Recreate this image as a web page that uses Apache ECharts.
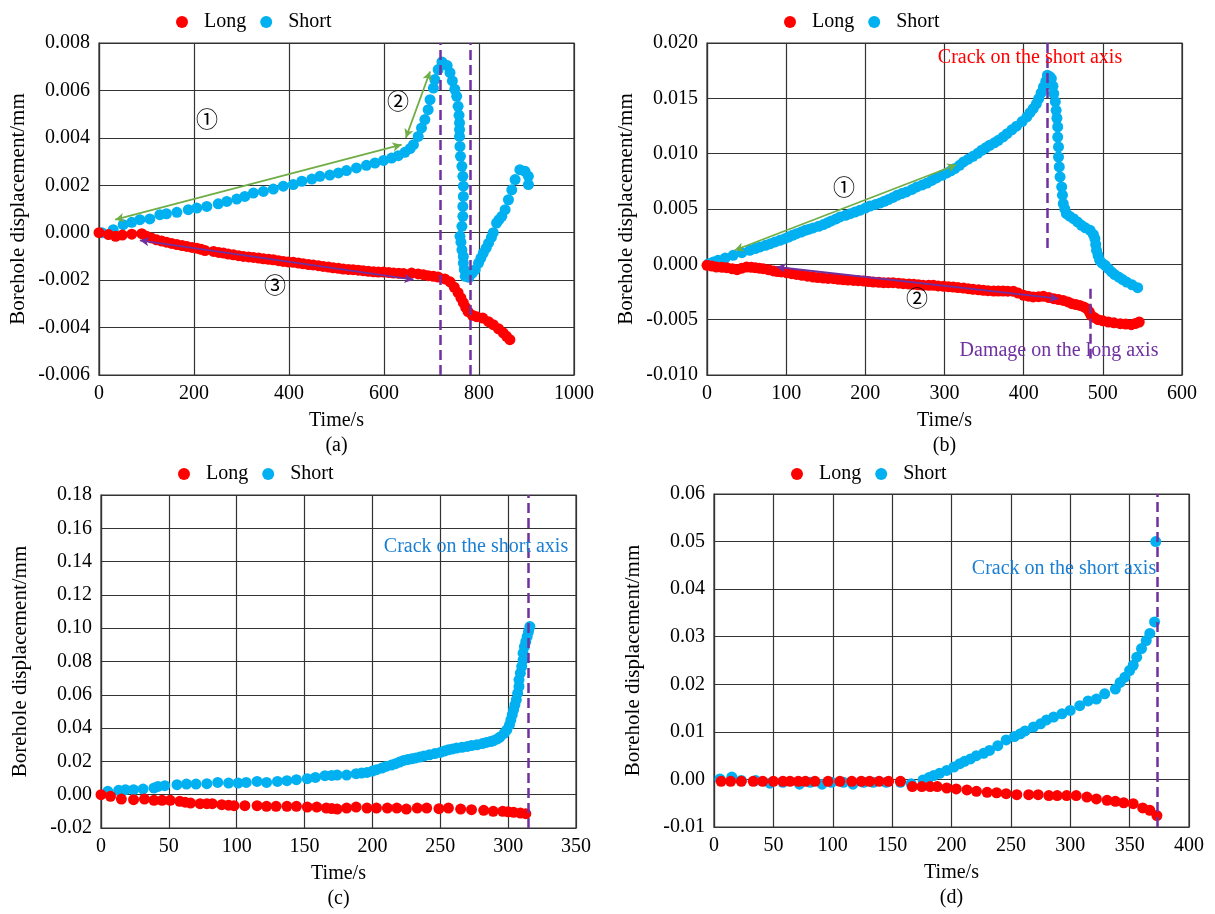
<!DOCTYPE html>
<html><head><meta charset="utf-8">
<script src="https://cdn.jsdelivr.net/npm/echarts@6/dist/echarts.min.js"></script>
<style>html,body{margin:0;padding:0;background:#fff}#c{width:1215px;height:914px}</style>
</head><body><div id="c"></div>
<script>
// ---------- DATA ----------
const seriesNames = ['Long', 'Short'];
const panelLabels = ['(a)', '(b)', '(c)', '(d)'];
const xName = 'Time/s';
const yName = 'Borehole displacement/mm';

// axis ranges [min, max, interval]
const xRanges = [[0, 1000, 200], [0, 600, 100], [0, 350, 50], [0, 400, 50]];
const yRanges = [[-0.006, 0.008, 0.002], [-0.010, 0.020, 0.005], [-0.02, 0.18, 0.02], [-0.01, 0.06, 0.01]];
const yDecimals = [3, 3, 2, 2];

// (a)
const aShort = [[6,0.0000],[30,0.00013],[51,0.00034],[69,0.00044],[86,0.00055],[107,0.00058],[128,0.00076],[142,0.0008],[164,0.00086],[188,0.00097],[206,0.00104],[227,0.00111],[251,0.00122],[269,0.00132],[290,0.00142],[307,0.00153],[325,0.00167],[346,0.00174],[367,0.00184],[388,0.00196],[409,0.00203],[427,0.00217],[448,0.00226],[465,0.00238],[486,0.00243],[504,0.00252],[521,0.00262],[542,0.00273],[563,0.00284],[581,0.00294],[599,0.00305],[616,0.00315],[630,0.00325],[644,0.00339],[655,0.00355],[662,0.00371],[672,0.00406],[679,0.00442],[686,0.00477],[693,0.00519],[697,0.00561],[704,0.0061],[707,0.00646],[714,0.00688],[722,0.0072],[733,0.00705],[739,0.00675],[744,0.0064],[749,0.00605],[753,0.00575],[756,0.00533],[758,0.00495],[759,0.00463],[759,0.00435],[759,0.00406],[760,0.00364],[761,0.00322],[764,0.0028],[766,0.00238],[767,0.00196],[767,0.00153],[766,0.00111],[766,0.00069],[764,0.00027],[760,-0.00015],[762,-0.0004],[764,-0.00072],[767,-0.001],[767,-0.00128],[769,-0.00155],[771,-0.00184],[779,-0.00188],[786,-0.0017],[792,-0.00156],[799,-0.00128],[804,-0.00107],[809,-0.00086],[815,-0.00065],[820,-0.00044],[826,-0.0002],[830,0.0000],[837,0.00041],[842,0.00055],[848,0.00069],[855,0.00097],[862,0.00139],[869,0.00181],[876,0.00224],[886,0.00266],[897,0.00259],[904,0.00238],[904,0.00203]];
const aLong = [[0,0],[20,-0.00008],[35,-0.00015],[49,-0.0001],[69,-0.00006],[90,-0.00004],[100,-0.00015],[110,-0.00022],[121,-0.0003],[132,-0.00035],[142,-0.0004],[153,-0.00045],[164,-0.0005],[175,-0.00054],[185,-0.00058],[196,-0.00062],[206,-0.00065],[215,-0.0007],[223,-0.00075],[241,-0.00079],[252,-0.00083],[262,-0.00086],[272,-0.0009],[283,-0.00093],[294,-0.00097],[304,-0.001],[315,-0.00102],[325,-0.00104],[336,-0.00107],[346,-0.0011],[357,-0.00112],[367,-0.00114],[378,-0.00118],[388,-0.00121],[398,-0.00123],[409,-0.00125],[420,-0.00128],[430,-0.00131],[441,-0.00134],[451,-0.00136],[462,-0.00139],[472,-0.00142],[483,-0.00145],[493,-0.00148],[504,-0.0015],[514,-0.00153],[525,-0.00155],[535,-0.00156],[546,-0.00158],[556,-0.0016],[567,-0.00163],[578,-0.00165],[588,-0.00166],[599,-0.00166],[610,-0.00168],[620,-0.0017],[631,-0.00171],[641,-0.00172],[658,-0.0017],[672,-0.00174],[683,-0.00177],[693,-0.00181],[704,-0.00184],[714,-0.00187],[728,-0.00195],[739,-0.00207],[748,-0.0023],[756,-0.00253],[762,-0.00275],[767,-0.00295],[772,-0.00315],[777,-0.00333],[786,-0.00348],[795,-0.00354],[808,-0.0036],[820,-0.00375],[830,-0.00388],[841,-0.00405],[851,-0.00422],[858,-0.00437],[865,-0.00451]];

// (b)
const bShort = [[2,0.00006],[8,0.0002],[14,0.00036],[23,0.00057],[33,0.00081],[44,0.00105],[54,0.00127],[61,0.00142],[67,0.00157],[74,0.00172],[80,0.00187],[86,0.00202],[92,0.00217],[98,0.00232],[103,0.00247],[108,0.00262],[113,0.00277],[119,0.00292],[124,0.00307],[129,0.00318],[134,0.00329],[141,0.00344],[147,0.00359],[152,0.00375],[157,0.00392],[163,0.0041],[168,0.00428],[175,0.00443],[181,0.00458],[187,0.00473],[193,0.00488],[200,0.00508],[206,0.00527],[213,0.00541],[219,0.00555],[224,0.0057],[229,0.00585],[235,0.00605],[240,0.00624],[246,0.00639],[252,0.00654],[259,0.00677],[265,0.00699],[272,0.00717],[278,0.00735],[284,0.00758],[290,0.00781],[297,0.00804],[303,0.00826],[308,0.00845],[313,0.00865],[319,0.00895],[324,0.00925],[330,0.0095],[336,0.00976],[342,0.01003],[347,0.01031],[352,0.01053],[357,0.01076],[363,0.01098],[368,0.01121],[374,0.01151],[379,0.01181],[385,0.01215],[391,0.01248],[398,0.0129],[404,0.01332],[408,0.0137],[412,0.01407],[416,0.0145],[419,0.01498],[422,0.0155],[425,0.01603],[428,0.01655],[430,0.01709],[433,0.01695],[435,0.01679],[437,0.0161],[438,0.01543],[440,0.0147],[441,0.01392],[442,0.0132],[443,0.01242],[443,0.0115],[444,0.01061],[444,0.0097],[445,0.0088],[446,0.0079],[448,0.00699],[449,0.00625],[450,0.00549],[452,0.005],[454,0.00458],[458,0.00435],[463,0.00413],[468,0.00383],[473,0.00353],[478,0.0033],[484,0.00307],[488,0.0027],[490,0.00232],[491,0.0018],[492,0.00127],[494,0.0008],[496,0.00036],[499,0.0001],[503,-0.00009],[507,-0.00039],[511,-0.00069],[515,-0.00092],[520,-0.00115],[525,-0.00138],[530,-0.0016],[537,-0.00185],[544,-0.00211]];
const bLong = [[0,-0.00009],[6,-0.00015],[12,-0.00024],[19,-0.00027],[25,-0.0003],[32,-0.0004],[38,-0.00048],[44,-0.00035],[50,-0.00024],[56,-0.00027],[61,-0.0003],[66,-0.00035],[71,-0.00039],[78,-0.0005],[84,-0.0006],[89,-0.00065],[94,-0.00069],[101,-0.00077],[107,-0.00084],[113,-0.00091],[120,-0.00099],[127,-0.00107],[134,-0.00115],[140,-0.0012],[147,-0.00124],[153,-0.00127],[160,-0.0013],[166,-0.00135],[172,-0.00139],[178,-0.00142],[185,-0.00145],[191,-0.00148],[198,-0.00151],[204,-0.00156],[210,-0.0016],[217,-0.00163],[223,-0.00166],[229,-0.00166],[235,-0.00166],[242,-0.0017],[248,-0.00175],[255,-0.00178],[261,-0.00181],[267,-0.00185],[273,-0.0019],[280,-0.0019],[286,-0.0019],[292,-0.00195],[299,-0.00199],[305,-0.00202],[311,-0.00205],[317,-0.0021],[324,-0.00214],[330,-0.0022],[336,-0.00226],[343,-0.0023],[349,-0.00235],[355,-0.00238],[362,-0.00241],[368,-0.00241],[374,-0.00241],[380,-0.00243],[387,-0.00244],[393,-0.0026],[400,-0.0028],[406,-0.00288],[412,-0.00295],[419,-0.00292],[425,-0.00289],[432,-0.003],[438,-0.0031],[444,-0.00318],[450,-0.00326],[456,-0.0034],[461,-0.00356],[466,-0.00364],[471,-0.00371],[476,-0.00385],[480,-0.00401],[483,-0.0043],[485,-0.00461],[489,-0.0048],[494,-0.005],[500,-0.0051],[507,-0.00521],[514,-0.00528],[522,-0.00536],[529,-0.0054],[536,-0.00545],[541,-0.00535],[546,-0.00521]];

// (c)
const cShort = [[5,0.002],[13,0.0026],[18,0.003],[24,0.003],[31,0.0034],[39,0.004],[42,0.005],[47,0.0054],[56,0.006],[63,0.0064],[70,0.0064],[78,0.0066],[86,0.0074],[94,0.007],[101,0.007],[107,0.0074],[115,0.008],[122,0.0074],[130,0.008],[137,0.0084],[144,0.009],[152,0.0096],[158,0.0104],[165,0.0114],[170,0.0116],[174,0.0118],[181,0.0118],[188,0.0126],[192,0.013],[196,0.0134],[200,0.0142],[203,0.015],[207,0.016],[210,0.017],[214,0.0178],[217,0.0186],[220,0.0196],[223,0.0206],[226,0.0211],[229,0.0216],[232,0.0221],[235,0.0226],[238,0.0233],[242,0.024],[246,0.0247],[250,0.0254],[253,0.0262],[256,0.027],[259,0.0275],[262,0.028],[266,0.0285],[270,0.029],[273,0.0295],[277,0.030],[281,0.0307],[284,0.0314],[287,0.0319],[289,0.0324],[292,0.0335],[294,0.0346],[297,0.0368],[299,0.039],[301,0.042],[302,0.045],[303,0.048],[304,0.051],[305,0.054],[306,0.057],[307,0.061],[308,0.065],[308,0.069],[309,0.073],[310,0.077],[311,0.081],[311,0.085],[312,0.089],[313,0.092],[314,0.095],[315,0.098],[316,0.101]];
const cLong = [[0,0],[7,-0.001],[15,-0.0026],[24,-0.003],[32,-0.0026],[39,-0.0034],[45,-0.0034],[51,-0.0034],[58,-0.004],[62,-0.0045],[66,-0.005],[73,-0.0054],[78,-0.0054],[82,-0.0054],[89,-0.006],[94,-0.0063],[98,-0.0066],[106,-0.0066],[115,-0.0066],[122,-0.007],[129,-0.007],[137,-0.007],[144,-0.007],[152,-0.0074],[159,-0.0074],[166,-0.008],[170,-0.0083],[174,-0.0086],[181,-0.008],[188,-0.0074],[196,-0.008],[203,-0.008],[211,-0.008],[218,-0.008],[225,-0.0086],[233,-0.008],[240,-0.008],[249,-0.0084],[256,-0.008],[265,-0.0086],[273,-0.009],[282,-0.0094],[289,-0.01],[296,-0.01],[300,-0.0103],[304,-0.0106],[309,-0.011],[313,-0.0114]];

// (d)
const dShort = [[5,0.0001],[15,0.0005],[23,-0.0002],[35,-0.0002],[47,-0.0008],[58,-0.0006],[72,-0.001],[81,-0.0006],[91,-0.001],[99,-0.0006],[109,-0.0006],[117,-0.001],[126,-0.0006],[134,-0.0006],[145,-0.0006],[157,-0.0006],[166,-0.0009],[176,-0.0001],[181,0.0004],[185,0.0008],[190,0.0013],[196,0.0019],[202,0.0026],[207,0.0033],[211,0.0038],[216,0.0043],[221,0.005],[227,0.0055],[232,0.0061],[239,0.0071],[246,0.0083],[253,0.009],[258,0.0096],[262,0.0102],[269,0.011],[275,0.0117],[280,0.0125],[286,0.0131],[293,0.0138],[300,0.0145],[308,0.0155],[315,0.0165],[322,0.0169],[329,0.018],[338,0.019],[342,0.0204],[346,0.0215],[350,0.0229],[353,0.024],[356,0.0257],[360,0.0275],[364,0.0292],[367,0.0307],[371,0.0331],[372,0.05]];
const dLong = [[6,-0.0004],[14,-0.0004],[23,-0.0004],[33,-0.0004],[41,-0.0004],[50,-0.0004],[58,-0.0004],[64,-0.0004],[71,-0.0004],[77,-0.0004],[85,-0.0004],[96,-0.0004],[106,-0.0004],[116,-0.0004],[124,-0.0004],[131,-0.0004],[139,-0.0004],[147,-0.0004],[157,-0.0004],[167,-0.0015],[175,-0.0015],[182,-0.0015],[188,-0.0015],[196,-0.0018],[204,-0.002],[213,-0.0022],[221,-0.0025],[230,-0.0027],[238,-0.0028],[246,-0.003],[255,-0.0032],[265,-0.0032],[273,-0.0032],[282,-0.0034],[289,-0.0034],[297,-0.0034],[305,-0.0034],[314,-0.0037],[322,-0.0041],[331,-0.0044],[338,-0.0046],[345,-0.0049],[353,-0.0051],[361,-0.006],[367,-0.0065],[373,-0.0076]];

const shortData = [aShort, bShort, cShort, dShort];
const longData = [aLong, bLong, cLong, dLong];

// annotation lines (data coordinates)
const aDashX = [719, 781];
const bDash = [[[430, 0.020], [430, 0.0012]], [[484, -0.0022], [484, -0.0085]]];
const cDashX = [315];
const dDashX = [373];
const aGreenArrows = [[[34, 0.00055], [637, 0.00371]], [[646, 0.0040], [697, 0.0068]]];
const aPurpleArrows = [[[86, -0.00032], [662, -0.00198]]];
const bGreenArrows = [[[35, 0.00127], [315, 0.0090]]];
const bPurpleArrows = [[[88, -0.00024], [444, -0.0031]]];

// ---------- LAYOUT ----------
const grids = [
  {left: 99, top: 43, width: 475, height: 332},
  {left: 707, top: 43, width: 475, height: 332},
  {left: 101, top: 495, width: 475, height: 333},
  {left: 714, top: 494, width: 475, height: 333}
];
const FONT = "'Liberation Serif', 'Times New Roman', serif";
const RED = '#ff0000', BLUE = '#00b0f0', PURPLE = '#7030a0', GREEN = '#70ad47', TXTBLUE = '#1a7fd2';

const chart = echarts.init(document.getElementById('c'), null, {renderer: 'canvas'});

const xAxes = [], yAxes = [], series = [], legends = [], graphics = [];
grids.forEach((g, i) => {
  xAxes.push({
    type: 'value', gridIndex: i, min: xRanges[i][0], max: xRanges[i][1], interval: xRanges[i][2],
    name: xName, nameLocation: 'middle', nameGap: 36,
    nameTextStyle: {fontFamily: FONT, fontSize: 20, color: '#000'},
    axisLine: {show: true, onZero: false, lineStyle: {color: '#333', width: 1.2}},
    axisTick: {show: false},
    axisLabel: {fontFamily: FONT, fontSize: 20, color: '#000', margin: 9, formatter: v => String(Math.round(v))},
    splitLine: {show: true, lineStyle: {color: '#333', width: 1.2}}
  });
  yAxes.push({
    type: 'value', gridIndex: i, min: yRanges[i][0], max: yRanges[i][1], interval: yRanges[i][2],
    name: yName, nameLocation: 'middle', nameGap: 70, nameRotate: 90,
    nameTextStyle: {fontFamily: FONT, fontSize: 21, color: '#000'},
    axisLine: {show: true, onZero: false, lineStyle: {color: '#333', width: 1.2}},
    axisTick: {show: false},
    axisLabel: {fontFamily: FONT, fontSize: 20, color: '#000', margin: 9,
      formatter: v => (Math.abs(v) < 1e-12 ? 0 : v).toFixed(yDecimals[i])},
    splitLine: {show: true, lineStyle: {color: '#333', width: 1.2}}
  });
  legends.push({
    data: seriesNames, left: g.left + 72, top: i < 2 ? 7 : 459, orient: 'horizontal',
    icon: 'circle', itemWidth: 34, itemHeight: 12, itemGap: 14, selectedMode: false,
    textStyle: {fontFamily: FONT, fontSize: 20, color: '#000'}
  });
  graphics.push({type: 'text', x: g.left + g.width / 2, y: g.top + g.height + 71,
    style: {text: panelLabels[i], font: '20px ' + FONT, fill: '#000', align: 'center', verticalAlign: 'middle'}});
});

function dashV(x) { return {xAxis: x, lineStyle: {color: PURPLE, type: [10, 5], width: 2.5}}; }
function seg(p, color, arrow, dash) {
  return [{coord: p[0], symbol: arrow ? 'arrow' : 'none', symbolSize: arrow ? [7, 9] : 0,
           lineStyle: {color: color, width: dash ? 2.5 : 1.8, type: dash ? [10, 5] : 'solid'}},
          {coord: p[1], symbol: arrow ? 'arrow' : 'none', symbolSize: arrow ? [7, 9] : 0}];
}

const markLines = [
  [].concat(aDashX.map(dashV), aGreenArrows.map(p => seg(p, GREEN, true)), aPurpleArrows.map(p => seg(p, PURPLE, true))),
  [].concat(bDash.map(p => seg(p, PURPLE, false, true)), bGreenArrows.map(p => seg(p, GREEN, true)), bPurpleArrows.map(p => seg(p, PURPLE, true))),
  cDashX.map(dashV),
  dDashX.map(dashV)
];

grids.forEach((g, i) => {
  series.push({
    name: 'Short', type: 'scatter', xAxisIndex: i, yAxisIndex: i, data: shortData[i],
    symbol: 'circle', symbolSize: 11, itemStyle: {color: BLUE, opacity: 1}, z: 2,
    markLine: {silent: true, symbol: 'none', label: {show: false}, animation: false, z: 5,
      data: markLines[i]}
  });
  series.push({
    name: 'Long', type: 'scatter', xAxisIndex: i, yAxisIndex: i, data: longData[i],
    symbol: 'circle', symbolSize: 11, itemStyle: {color: RED, opacity: 1}, z: 3
  });
});

// text annotations
const circ = "'Noto Sans CJK SC', 'DejaVu Sans', sans-serif";
const annTexts = [
  {t: '①', x: 207, y: 119, c: '#000', f: '22px ' + circ},
  {t: '②', x: 398, y: 101, c: '#000', f: '22px ' + circ},
  {t: '③', x: 275, y: 285, c: '#000', f: '22px ' + circ},
  {t: '①', x: 844, y: 187, c: '#000', f: '22px ' + circ},
  {t: '②', x: 917, y: 298, c: '#000', f: '22px ' + circ},
  {t: 'Crack on the short axis', x: 1030, y: 58, c: RED, f: '20px ' + FONT},
  {t: 'Damage on the long axis', x: 1059, y: 351, c: PURPLE, f: '20px ' + FONT},
  {t: 'Crack on the short axis', x: 476, y: 547, c: TXTBLUE, f: '20px ' + FONT},
  {t: 'Crack on the short axis', x: 1064, y: 569, c: TXTBLUE, f: '20px ' + FONT}
];
annTexts.forEach(a => graphics.push({type: 'text', x: a.x, y: a.y, z: 10,
  style: {text: a.t, font: a.f, fill: a.c, align: 'center', verticalAlign: 'middle'}}));

chart.setOption({
  animation: false,
  backgroundColor: '#fff',
  grid: grids.map(g => Object.assign({show: true, borderColor: '#333', borderWidth: 1.2, backgroundColor: 'transparent'}, g)),
  xAxis: xAxes, yAxis: yAxes, legend: legends, series: series, graphic: graphics
});
</script></body></html>
